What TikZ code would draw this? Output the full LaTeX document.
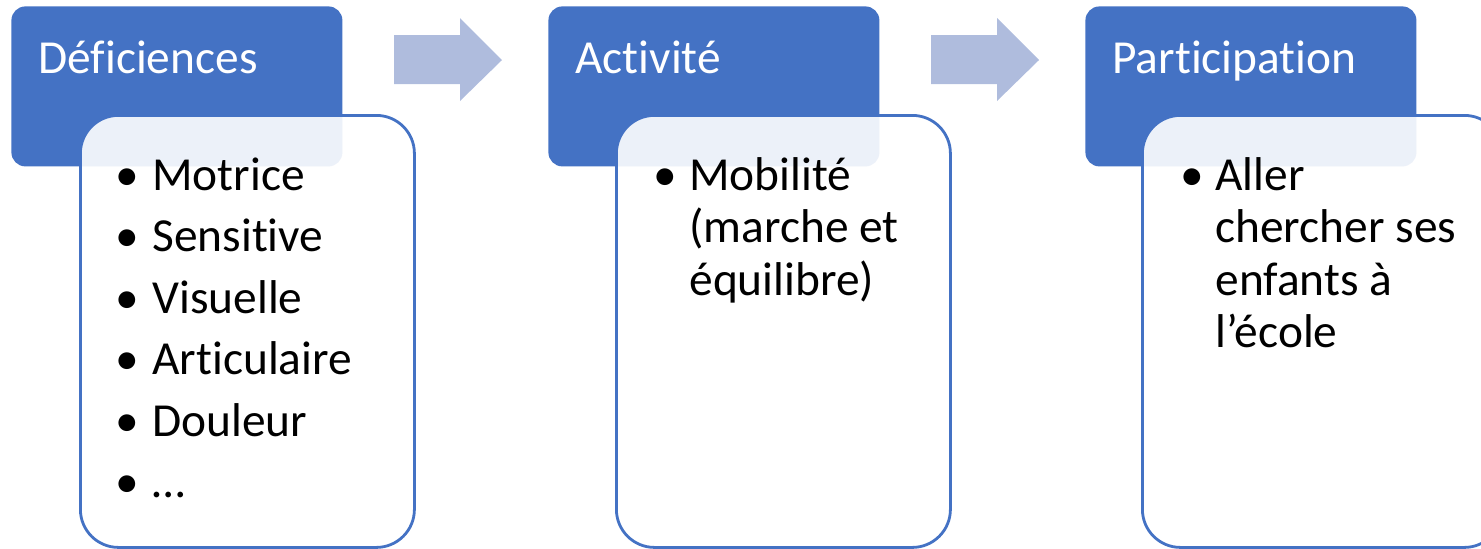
\documentclass[tikz,border=0pt]{standalone}
\usepackage{fontspec}
\setmainfont{Carlito}[RawFeature={-liga}]
\definecolor{hdr}{HTML}{4472C4}
\definecolor{arr}{HTML}{AFBCDD}
\begin{document}
\begin{tikzpicture}[x=0.5pt,y=-0.5pt,
  hdrbox/.style={fill=hdr, draw=none, rounded corners=7pt, inner sep=0pt, anchor=north west, minimum width=165.5pt, minimum height=80pt},
  listbox/.style={draw=hdr, line width=1.4pt, fill=white, fill opacity=0.9, rounded corners=19pt, inner sep=0pt, anchor=north west, minimum width=167pt, minimum height=216pt},
  hdrtext/.style={text=white, font=\fontsize{23.7}{28}\selectfont, anchor=base west, inner sep=0pt},
  bodytext/.style={text=black, font=\fontsize{23.7}{28}\selectfont, anchor=base west, inner sep=0pt},
  flowarrow/.style={fill=arr, draw=none}
]
\useasboundingbox (0,0) rectangle (1481,548);
\clip (0,0) rectangle (1481,548);

% arrows
\fill[flowarrow] (394,35) -- (460,35) -- (460,18) -- (502,60) -- (460,101) -- (460,84) -- (394,84) -- cycle;
\fill[flowarrow] (931,35) -- (997,35) -- (997,18) -- (1039,60) -- (997,101) -- (997,84) -- (931,84) -- cycle;

% headers
\node[hdrbox] (h1) at (11,6) {};
\node[hdrbox] (h2) at (548,6) {};
\node[hdrbox] (h3) at (1085,6) {};
\node[hdrtext] (t1) at (38,73) {Déficiences};
\node[hdrtext] (t2) at (575,73) {Activité};
\node[hdrtext] (t3) at (1112,73) {Participation};

% list boxes
\node[listbox] (b1) at (79,114) {};
\node[listbox] (b2) at (615,114) {};
\node[listbox, minimum width=180pt] (b3) at (1141,114) {};

% box 1
\foreach \t [count=\i from 0] in {{Motrice},{Sensitive},{Visuelle},{Articulaire},{Douleur},{…}}{
  \node[bodytext] (p1d\i) at (115,190+61.5*\i) {•};
  \node[bodytext] (p1t\i) at (152,190+61.5*\i) {\t};
}

% box 2
\node[bodytext] (p2d0) at (653,190) {•};
\node[bodytext] (p2t0) at (689,190) {Mobilité};
\node[bodytext] (p2t1) at (689,242.5) {(marche et};
\node[bodytext] (p2t2) at (689,295) {équilibre)};

% box 3
\node[bodytext] (p3d0) at (1180,190) {•};
\node[bodytext] (p3t0) at (1215,190) {Aller};
\node[bodytext] (p3t1) at (1215,242.5) {chercher ses};
\node[bodytext] (p3t2) at (1215,295) {enfants à};
\node[bodytext] (p3t3) at (1215,347.5) {l’école};
\end{tikzpicture}
\end{document}
